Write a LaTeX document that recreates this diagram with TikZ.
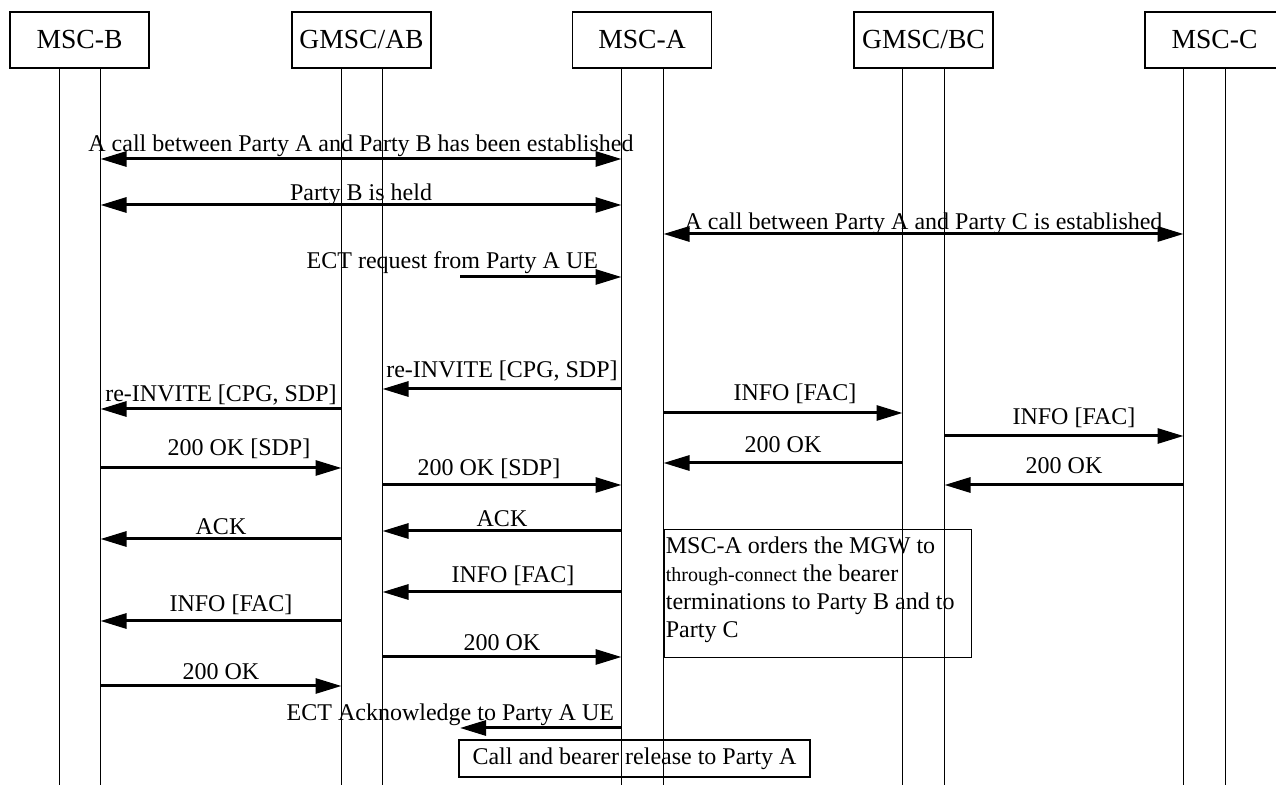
\documentclass[tikz,border=0pt]{standalone}
\usepackage{fontspec}
\setmainfont{Liberation Serif}
\usetikzlibrary{arrows.meta}

\begin{document}
\begin{tikzpicture}[x=0.5pt, y=-0.5pt,
    entity/.style={draw, line width=0.8pt, minimum width=69.5pt, minimum height=28pt,
        inner sep=0pt, font=\fontsize{13.8}{16}\selectfont},
    life/.style={line width=0.55pt},
    msg/.style={line width=1.5pt, >={Triangle[length=13pt, width=7.5pt]}},
    lbl/.style={anchor=base, yshift=4pt, inner sep=0pt, font=\fontsize{12}{14}\selectfont},
    note/.style={draw, line width=0.6pt, inner sep=0pt}]
    \clip (0,0) rectangle (1276,785);

    \node[entity] (mscb) at (79.5,40) {MSC-B};
    \node[entity] (gmscab) at (361.5,40) {GMSC/AB};
    \node[entity] (msca) at (642,40) {MSC-A};
    \node[entity] (gmscbc) at (923.5,40) {GMSC/BC};
    \node[entity] (mscc) at (1214.5,40) {MSC-C};

    \coordinate (bl) at (59.5,68);
    \coordinate (br) at (100.5,68);
    \coordinate (gabl) at (341.5,68);
    \coordinate (gabr) at (382.5,68);
    \coordinate (al) at (621.5,68);
    \coordinate (ar) at (663.5,68);
    \coordinate (gbcl) at (902.5,68);
    \coordinate (gbcr) at (944.5,68);
    \coordinate (cl) at (1183.5,68);
    \coordinate (cr) at (1225.5,68);
    \foreach \l in {bl,br,gabl,gabr,al,ar,gbcl,gbcr,cl,cr}
        \draw[life] (\l) -- (\l |- 0,785);

    \draw[msg, <->] (br |- 0,159) -- (al |- 0,159) node[lbl, midway, yshift=-0.5pt]{A call between Party A and Party B has been established};
    \draw[msg, <->] (br |- 0,205) -- (al |- 0,205) node[lbl, midway, yshift=-2pt]{Party B is held};
    \draw[msg, <->] (ar |- 0,234) -- (cl |- 0,234) node[lbl, midway, yshift=-2pt]{A call between Party A and Party C is established};

    \coordinate (ectreq) at (460,277);
    \draw[msg, ->] (ectreq) -- (al |- ectreq) node[lbl, pos=1, anchor=base east, xshift=-11pt]{ECT request from Party A UE};

    \draw[msg, ->] (al |- 0,389) -- (gabr |- 0,389) node[lbl, midway, yshift=1.5pt]{re-INVITE [CPG, SDP]};
    \draw[msg, ->] (gabl |- 0,409) -- (br |- 0,409) node[lbl, midway, yshift=-0.5pt]{re-INVITE [CPG, SDP]};
    \draw[msg, ->] (ar |- 0,413) -- (gbcl |- 0,413) node[lbl, midway, xshift=6pt, yshift=2pt]{INFO [FAC]};
    \draw[msg, ->] (gbcr |- 0,436) -- (cl |- 0,436) node[lbl, midway, xshift=5pt, yshift=1.5pt]{INFO [FAC]};
    \draw[msg, ->] (gbcl |- 0,463) -- (ar |- 0,463) node[lbl, midway, yshift=1pt]{200 OK};
    \draw[msg, ->] (br |- 0,468) -- (gabl |- 0,468) node[lbl, midway, xshift=9pt, yshift=2pt]{200 OK [SDP]};
    \draw[msg, ->] (cl |- 0,485) -- (gbcr |- 0,485) node[lbl, midway, yshift=1.5pt]{200 OK};
    \draw[msg, ->] (gabr |- 0,485) -- (al |- 0,485) node[lbl, midway, xshift=-6.5pt, yshift=0.5pt]{200 OK [SDP]};
    \draw[msg, ->] (al |- 0,531) -- (gabr |- 0,531) node[lbl, midway, yshift=-2pt]{ACK};
    \draw[msg, ->] (gabl |- 0,539) -- (br |- 0,539) node[lbl, midway, yshift=-2pt]{ACK};
    \draw[msg, ->] (al |- 0,592) -- (gabr |- 0,592) node[lbl, midway, xshift=5.5pt, yshift=0.5pt]{INFO [FAC]};
    \draw[msg, ->] (gabl |- 0,621) -- (br |- 0,621) node[lbl, midway, xshift=5pt, yshift=0.5pt]{INFO [FAC]};
    \draw[msg, ->] (gabr |- 0,657) -- (al |- 0,657) node[lbl, midway, yshift=-1pt]{200 OK};
    \draw[msg, ->] (br |- 0,686) -- (gabl |- 0,686) node[lbl, midway, yshift=-1pt]{200 OK};

    \coordinate (ectack) at (460,728);
    \draw[msg, ->] (al |- ectack) -- (ectack) node[lbl, pos=0, anchor=base east, xshift=-3pt, yshift=-0.5pt]{ECT Acknowledge to Party A UE};

    \node[note, minimum width=153.5pt, minimum height=64pt, anchor=north west] (mgwbox) at (664,529) {};
    \node[anchor=north west, inner xsep=0.75pt, inner ysep=3.8pt, align=left, font=\fontsize{12}{14}\selectfont] (mgwtext) at (mgwbox.north west)
        {MSC-A orders the MGW to\\ {\fontsize{10}{14}\selectfont through-connect} the bearer\\ terminations to Party B and to\\ Party C};

    \node[note, minimum width=175.5pt, minimum height=18.5pt, font=\fontsize{12}{14}\selectfont] (release) at (634.5,758.5) {Call and bearer release to Party A};
\end{tikzpicture}
\end{document}
